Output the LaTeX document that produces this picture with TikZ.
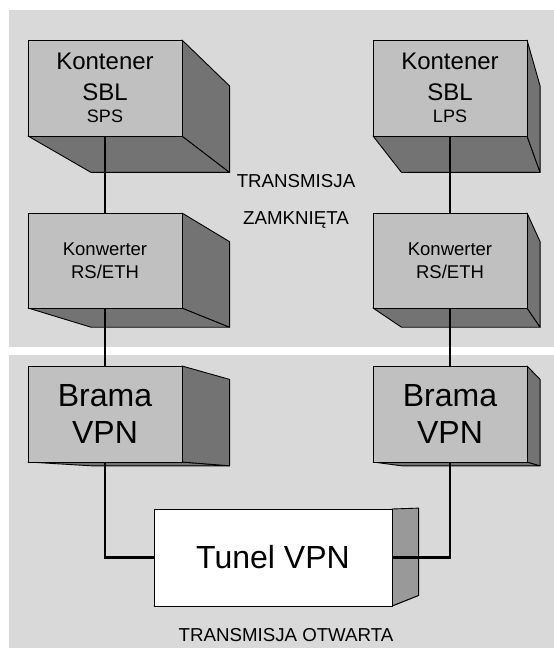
\documentclass[tikz,border=0pt]{standalone}
\usepackage{fontspec}
\setmainfont{Liberation Sans}
\usetikzlibrary{calc}
\definecolor{panelgray}{RGB}{217,217,217}
\definecolor{frontgray}{RGB}{192,192,192}
\definecolor{darkgray}{RGB}{115,115,115}
\definecolor{tunelside}{RGB}{153,153,153}
\pgfdeclarelayer{panels}
\pgfdeclarelayer{faces}
\pgfsetlayers{panels,faces,main}
\newcommand\extrude[2]{%
  \begin{pgfonlayer}{faces}
    \filldraw[fill=darkgray,draw=black,line width=0.9pt,line join=round]
      (#1.south west) -- (#1.south east) -- ($(#1.south east)!0.1!(vp)$) -- ($(#1.south west)!0.1!(vp)$) -- cycle;
    \filldraw[fill=#2,draw=black,line width=0.9pt,line join=round]
      (#1.north east) -- ($(#1.north east)!0.1!(vp)$) -- ($(#1.south east)!0.1!(vp)$) -- (#1.south east) -- cycle;
  \end{pgfonlayer}}
\begin{document}
\begin{tikzpicture}[x=1pt,y=-1pt,
  panelbg/.style={fill=panelgray,draw=none},
  frontface/.style={draw=black,line width=0.9pt,fill=frontgray,inner sep=0pt,outer sep=0pt,
    minimum width=154pt,minimum height=96pt,align=center},
  kontener/.style={frontface,font=\fontsize{24}{31}\selectfont},
  konwerter/.style={frontface,minimum height=95pt,font=\fontsize{18.5}{23}\selectfont},
  brama/.style={frontface,font=\fontsize{32}{37}\selectfont},
  tunel/.style={frontface,fill=white,minimum width=238pt,minimum height=97pt,font=\fontsize{32}{38}\selectfont},
  label/.style={align=center,inner sep=0pt,font=\fontsize{18.7}{37}\selectfont},
  conn/.style={draw=black,line width=2.5pt}]
\useasboundingbox (0,0) rectangle (554,648);
\coordinate (vp) at (658,500);
\begin{pgfonlayer}{panels}
  \fill[panelbg] (9,10) rectangle (554,347);
  \fill[panelbg] (9,355) rectangle (554,648);
\end{pgfonlayer}
% front faces
\node[kontener] (k1) at (105,88) {Kontener\\SBL\\[-9pt]{\fontsize{18}{22}\selectfont SPS}};
\node[kontener] (k2) at (450,88) {Kontener\\SBL\\[-9pt]{\fontsize{18}{22}\selectfont LPS}};
\node[konwerter] (c1) at (105,260.5) {Konwerter\\RS/ETH};
\node[konwerter] (c2) at (450,260.5) {Konwerter\\RS/ETH};
\node[brama] (b1) at (105,414) {Brama\\VPN};
\node[brama] (b2) at (450,414) {Brama\\VPN};
\node[tunel] (t) at (273,557.5) {Tunel VPN};
\extrude{k1}{darkgray}
\extrude{k2}{darkgray}
\extrude{c1}{darkgray}
\extrude{c2}{darkgray}
\extrude{b1}{darkgray}
\extrude{b2}{darkgray}
\extrude{t}{tunelside}
% labels
\node[label] (zamk) at (296,201.5) {TRANSMISJA\\ZAMKNIĘTA};
\node[label] (otw) at (286,635) {TRANSMISJA OTWARTA};
% connectors
\draw[conn] (k1.south) -- (c1.north);
\draw[conn] (c1.south) -- (b1.north);
\draw[conn] (b1.south) |- (t.west);
\draw[conn] (k2.south) -- (c2.north);
\draw[conn] (c2.south) -- (b2.north);
\draw[conn] (b2.south) |- (t.east);
\end{tikzpicture}
\end{document}
